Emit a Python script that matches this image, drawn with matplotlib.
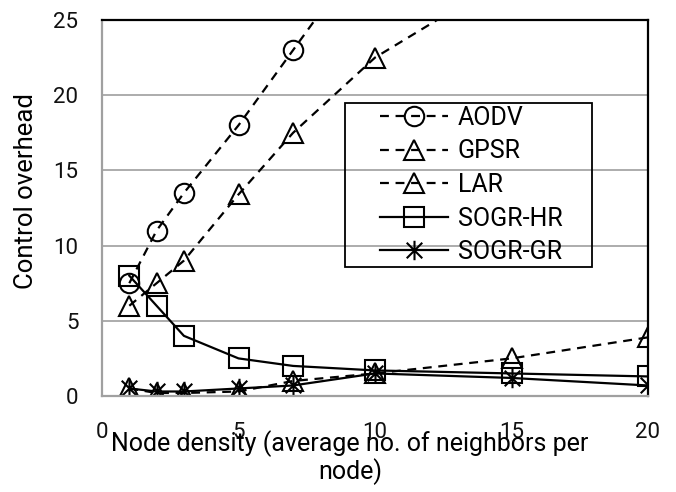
import matplotlib
matplotlib.use("Agg")
import matplotlib.pyplot as plt
from matplotlib.path import Path
from matplotlib.patches import Rectangle

plt.rcParams['font.family'] = ['Roboto', 'DejaVu Sans']

# Data
x_aodv = [1, 2, 3, 5, 7, 10]
aodv = [7.5, 11, 13.5, 18, 23, 30.5]
x_gpsr = [1, 2, 3, 5, 7, 10, 15]
gpsr = [6, 7.5, 9, 13.4, 17.5, 22.5, 28]
x_all = [1, 2, 3, 5, 7, 10, 15, 20]
lar = [0.5, 0.2, 0.2, 0.3, 1.0, 1.5, 2.5, 3.9]
sogr_hr = [8.0, 6.0, 4.0, 2.5, 2.0, 1.7, 1.5, 1.3]
sogr_gr = [0.5, 0.3, 0.3, 0.5, 0.7, 1.5, 1.2, 0.7]
labels = ['AODV', 'GPSR', 'LAR', 'SOGR-HR', 'SOGR-GR']
xticks = [0, 5, 10, 15, 20]
yticks = [0, 5, 10, 15, 20, 25]

W, H = 676, 492
fig = plt.figure(figsize=(W / 100, H / 100), dpi=100)
ax = fig.add_axes([102 / W, 1 - 396 / H, (648 - 102) / W, (396 - 20) / H])

star = Path([(-1, -1), (1, 1), (-1, 1), (1, -1), (0, -1.25), (0, 1.25)],
            [Path.MOVETO, Path.LINETO, Path.MOVETO, Path.LINETO, Path.MOVETO, Path.LINETO])

dash = (0, (4, 3))
common = dict(color='black', lw=1.6, markersize=14, markerfacecolor='none',
              markeredgecolor='black', markeredgewidth=1.5)
h1, = ax.plot(x_aodv, aodv, linestyle=dash, marker='o', label=labels[0], **common)
h2, = ax.plot(x_gpsr, gpsr, linestyle=dash, marker='^', label=labels[1], **common)
h3, = ax.plot(x_all, lar, linestyle=dash, marker='^', label=labels[2], **common)
h4, = ax.plot(x_all, sogr_hr, linestyle='-', marker='s', label=labels[3], **common)
h5, = ax.plot(x_all, sogr_gr, linestyle='-', marker=star, label=labels[4], **common)

ax.set_xlim(0, 20)
ax.set_ylim(0, 25)
ax.set_xticks(xticks)
ax.set_yticks(yticks)
ax.set_xticklabels([str(v) for v in xticks])
ax.set_yticklabels([str(v) for v in yticks])
ax.tick_params(length=0, labelsize=16, labelcolor='#111111')
ax.tick_params(axis='y', pad=17)
ax.tick_params(axis='x', pad=19)
ax.grid(axis='y', color='#a6a6a6', lw=1.3)
ax.set_axisbelow(True)
for s in ('left', 'bottom'):
    ax.spines[s].set_color('#a0a0a0')
    ax.spines[s].set_linewidth(1.6)
for s in ('top', 'right'):
    ax.spines[s].set_color('black')
    ax.spines[s].set_linewidth(1.6)

fig.text(26 / W, 1 - 191 / H, 'Control overhead', rotation=90, ha='center', va='center', fontsize=18.5)
fig.text(350 / W, 1 - 430 / H, 'Node density (average no. of neighbors per\nnode)',
         ha='center', va='top', fontsize=18, linespacing=1.05)

# Legend box
fig.patches.append(Rectangle((345 / W, 1 - 267 / H), (592 - 345) / W, (267 - 103) / H,
                             transform=fig.transFigure, fill=False, edgecolor='black', lw=1.3))
leg = fig.legend(handles=[h1, h2, h3, h4, h5], loc='center',
                 bbox_to_anchor=((345 + 592) / 2 / W + 0.004, 1 - (103 + 267) / 2 / H),
                 frameon=False, fontsize=18, handlelength=2.7, handletextpad=0.4,
                 labelspacing=0.38)

fig.savefig('out.png', dpi=100)
